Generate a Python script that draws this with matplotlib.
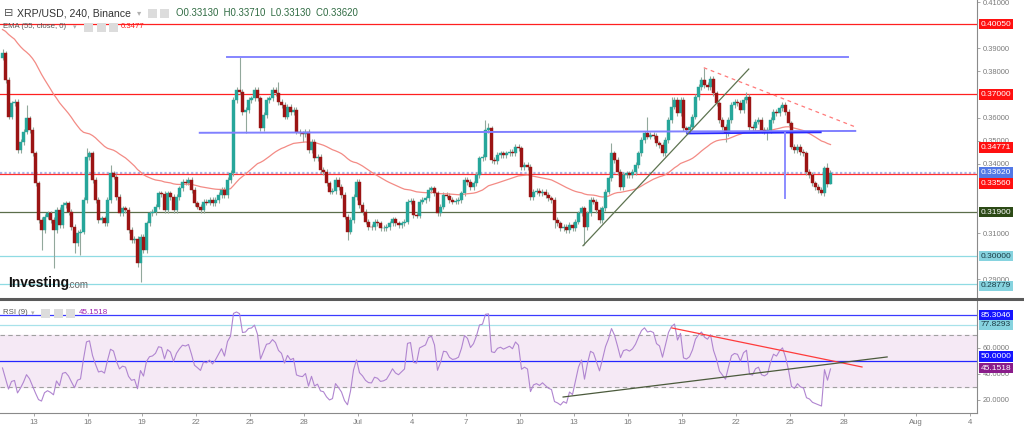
import numpy as np
import pandas as pd
import matplotlib
matplotlib.use("Agg")
import matplotlib.pyplot as plt
import matplotlib.dates as mdates
from matplotlib.patches import Rectangle
from matplotlib.transforms import blended_transform_factory

plt.rcParams['font.family'] = ['Liberation Sans', 'DejaVu Sans']

# XRP/USD 4h closes (Binance), first candle 11 Jun 2022 04:00
closes = [
    0.3878, 0.3762, 0.3604, 0.3661, 0.3668, 0.3459, 0.3495, 0.3539, 0.3596, 0.3546,
    0.3445, 0.3315, 0.3156, 0.3113, 0.3171, 0.3185, 0.3156, 0.3113, 0.3199, 0.3135,
    0.3221, 0.3228, 0.3192, 0.3127, 0.3055, 0.3099, 0.3106, 0.3243, 0.3430, 0.3445,
    0.3329, 0.3243, 0.3156, 0.3163, 0.3142, 0.3243, 0.3358, 0.3344, 0.3257, 0.3185,
    0.3207, 0.3199, 0.3113, 0.3070, 0.3075, 0.2969, 0.3084, 0.3026, 0.3142, 0.3185,
    0.3192, 0.3214, 0.3272, 0.3268, 0.3199, 0.3272, 0.3257, 0.3199, 0.3257, 0.3293,
    0.3322, 0.3318, 0.3329, 0.3286, 0.3228, 0.3214, 0.3199, 0.3236, 0.3232, 0.3243,
    0.3228, 0.3243, 0.3264, 0.3286, 0.3264, 0.3329, 0.3361, 0.3676, 0.3719, 0.3712,
    0.3625, 0.3632, 0.3676, 0.3683, 0.3719, 0.3683, 0.3553, 0.3611, 0.3676, 0.3683,
    0.3719, 0.3705, 0.3668, 0.3654, 0.3604, 0.3647, 0.3625, 0.3632, 0.3539, 0.3531,
    0.3528, 0.3539, 0.3459, 0.3495, 0.3423, 0.3430, 0.3373, 0.3365, 0.3315, 0.3279,
    0.3283, 0.3329, 0.3300, 0.3264, 0.3171, 0.3106, 0.3156, 0.3257, 0.3322, 0.3221,
    0.3192, 0.3149, 0.3127, 0.3124, 0.3149, 0.3142, 0.3120, 0.3122, 0.3127, 0.3142,
    0.3159, 0.3142, 0.3135, 0.3142, 0.3149, 0.3236, 0.3240, 0.3178, 0.3175, 0.3236,
    0.3243, 0.3250, 0.3286, 0.3293, 0.3272, 0.3185, 0.3214, 0.3264, 0.3262, 0.3243,
    0.3236, 0.3238, 0.3243, 0.3272, 0.3329, 0.3322, 0.3300, 0.3315, 0.3351, 0.3423,
    0.3430, 0.3546, 0.3553, 0.3416, 0.3412, 0.3438, 0.3445, 0.3438, 0.3445, 0.3452,
    0.3445, 0.3474, 0.3466, 0.3387, 0.3394, 0.3387, 0.3257, 0.3279, 0.3283, 0.3272,
    0.3279, 0.3264, 0.3250, 0.3243, 0.3156, 0.3142, 0.3120, 0.3127, 0.3113, 0.3135,
    0.3120, 0.3149, 0.3185, 0.3207, 0.3127, 0.3185, 0.3243, 0.3236, 0.3199, 0.3156,
    0.3207, 0.3279, 0.3337, 0.3445, 0.3416, 0.3365, 0.3300, 0.3351, 0.3358, 0.3351,
    0.3365, 0.3394, 0.3445, 0.3503, 0.3531, 0.3517, 0.3524, 0.3520, 0.3488, 0.3481,
    0.3445, 0.3503, 0.3589, 0.3647, 0.3676, 0.3618, 0.3676, 0.3553, 0.3546, 0.3560,
    0.3604, 0.3690, 0.3733, 0.3762, 0.3741, 0.3733, 0.3769, 0.3705, 0.3661, 0.3589,
    0.3560, 0.3531, 0.3589, 0.3654, 0.3668, 0.3664, 0.3632, 0.3676, 0.3690, 0.3560,
    0.3553, 0.3582, 0.3589, 0.3546, 0.3539, 0.3546, 0.3589, 0.3625, 0.3618, 0.3640,
    0.3654, 0.3625, 0.3575, 0.3474, 0.3459, 0.3474, 0.3452, 0.3445, 0.3365, 0.3351,
    0.3315, 0.3300, 0.3286, 0.3272, 0.3380, 0.3313, 0.3362,
]
first_open = 0.3860
# long wicks (candle index -> price)
wick_hi = {0: 0.3895, 8: 0.3654, 28: 0.3466, 36: 0.3394, 79: 0.3863, 92: 0.3755,
           161: 0.3589, 162: 0.3575, 203: 0.3488, 215: 0.3604, 223: 0.3690,
           234: 0.3816, 248: 0.3712, 260: 0.3668, 275: 0.3402, 276: 0.3371}
wick_lo = {13: 0.3026, 17: 0.2947, 24: 0.3012, 26: 0.3005, 45: 0.2954, 46: 0.2889,
           81: 0.3534, 86: 0.3540, 100: 0.3495, 115: 0.3070, 184: 0.3120,
           194: 0.3048, 241: 0.3495, 255: 0.3503, 273: 0.3264, 276: 0.3313}
wick_pad = 0.0012

ema_seed = 0.3985          # EMA(55) value at the first visible candle
rsi_seed = (0.0030, 0.0040)  # avg gain / avg loss before the first candle

# horizontal levels on the price panel
red_levels = [0.4005, 0.3700, 0.3356]
green_level = 0.3190
cyan_levels = [0.3000, 0.28779]
last_price = 0.3362

# drawn tools (start, end, price start, price end)
blue_top = ("2022-06-23 17:00", "2022-07-28 05:00", 0.3862, 0.3862)
blue_mid = ("2022-06-22 05:00", "2022-07-28 15:00", 0.3534, 0.3542)
blue_dark = ("2022-07-19 07:00", "2022-07-26 17:00", 0.3531, 0.3536)
blue_vert = ("2022-07-24 17:00", 0.3531, 0.3250)
trend_up = ("2022-07-13 12:00", "2022-07-22 17:00", 0.3045, 0.3810)
trend_down = ("2022-07-20 05:00", "2022-07-28 17:00", 0.3816, 0.3557)

rsi_levels = [(85.3046, '#3b3bff'), (77.8293, '#a8e2ea'), (50.0, '#2424ff')]
rsi_red = ("2022-07-18 10:30", "2022-07-29 00:00", 75.4, 45.4)
rsi_black = ("2022-07-12 09:30", "2022-07-30 09:30", 22.3, 53.1)

price_ticks = [0.29, 0.31, 0.34, 0.35, 0.36, 0.38, 0.39, 0.41]
rsi_ticks = [20, 40, 60]

tick_dates = ["2022-06-13", "2022-06-16", "2022-06-19", "2022-06-22", "2022-06-25",
              "2022-06-28", "2022-07-01", "2022-07-04", "2022-07-07", "2022-07-10",
              "2022-07-13", "2022-07-16", "2022-07-19", "2022-07-22", "2022-07-25",
              "2022-07-28", "2022-08-01", "2022-08-04"]
tick_labels = ["13", "16", "19", "22", "25", "28", "Jul", "4", "7", "10", "13", "16",
               "19", "22", "25", "28", "Aug", "4"]

# ---- derived series
n = len(closes)
times = pd.date_range("2022-06-11 04:00", periods=n, freq="4h") + pd.Timedelta(hours=2)
x = mdates.date2num(times.to_pydatetime())
c = np.array(closes)
o = np.concatenate([[first_open], c[:-1]])
hi = np.maximum(o, c) + wick_pad
lo = np.minimum(o, c) - wick_pad
for k, v in wick_hi.items():
    hi[k] = v
for k, v in wick_lo.items():
    lo[k] = v

alpha = 2 / 56
ema = []
e = ema_seed
for v in closes:
    e = e + alpha * (v - e)
    ema.append(e)

ag, al = rsi_seed
rsi = []
prev = first_open
for v in closes:
    ch = v - prev
    ag = (ag * 8 + max(ch, 0)) / 9
    al = (al * 8 + max(-ch, 0)) / 9
    rsi.append(100 - 100 / (1 + ag / al))
    prev = v


def dn(s):
    return mdates.date2num(pd.Timestamp(s).to_pydatetime())


# ---- figure
fig = plt.figure(figsize=(10.24, 4.28), dpi=100)
ax = fig.add_axes([0, 1 - 297 / 428, 977 / 1024, 297 / 428])
ax2 = fig.add_axes([0, 1 - 413 / 428, 977 / 1024, 113 / 428], sharex=ax)

x0 = dn("2022-06-13") - 34 / 18
x1 = dn("2022-08-04") + 7 / 18
ax.set_xlim(x0, x1)
ax.set_ylim(0.2823, 0.4109)
ax2.set_ylim(10, 96.9)

# levels
for lv in red_levels[:2]:
    ax.axhline(lv, color='#ff2020', lw=0.9, zorder=1)
ax.axhline(last_price, color='#a9b4e6', lw=1.6, ls=(0, (1, 1)), zorder=1)
ax.axhline(red_levels[2], color='#ff3030', lw=0.9, zorder=1)
ax.axhline(green_level, color='#5b6e4a', lw=0.9, zorder=1)
for lv in cyan_levels:
    ax.axhline(lv, color='#8fdbe3', lw=0.9, zorder=1)

# candles
up = c >= o
body_lo = np.minimum(o, c)
body_h = np.maximum(np.abs(c - o), 0.0002)
ax.vlines(x, lo, hi, color='#92a89c', lw=0.8, zorder=2)
ax.bar(x[up], body_h[up], bottom=body_lo[up], width=0.12, color='#26a69a',
       edgecolor='#26a69a', lw=0.3, zorder=3)
ax.bar(x[~up], body_h[~up], bottom=body_lo[~up], width=0.12, color='#9b1414',
       edgecolor='#9b1414', lw=0.3, zorder=3)

ax.plot(x, ema, color='#f38b85', lw=0.9, zorder=2.5)

# drawing tools
ax.plot([dn(blue_top[0]), dn(blue_top[1])], blue_top[2:], color='#8585ff', lw=1.4, zorder=4)
ax.plot([dn(blue_mid[0]), dn(blue_mid[1])], blue_mid[2:], color='#8080ff', lw=1.4, zorder=4)
ax.plot([dn(blue_dark[0]), dn(blue_dark[1])], blue_dark[2:], color='#2a2aff', lw=1.3, zorder=4)
ax.plot([dn(blue_vert[0])] * 2, blue_vert[1:], color='#8c8cff', lw=1.4, zorder=4)
ax.plot([dn(trend_up[0]), dn(trend_up[1])], trend_up[2:], color='#5d7350', lw=0.9, zorder=4)
ax.plot([dn(trend_down[0]), dn(trend_down[1])], trend_down[2:], color='#ff7a7a', lw=0.9,
        ls=(0, (3, 3)), zorder=4)

# RSI panel
ax2.axhspan(30, 70, color='#f5e9f5', zorder=0)
ax2.axhline(70, color='#a0a0a0', lw=0.8, ls=(0, (4, 3)), zorder=1)
ax2.axhline(30, color='#a0a0a0', lw=0.8, ls=(0, (4, 3)), zorder=1)
for lv, col in rsi_levels:
    ax2.axhline(lv, color=col, lw=0.9, zorder=1)
ax2.plot(x, rsi, color='#b085d0', lw=0.8, zorder=3)
ax2.plot([dn(rsi_red[0]), dn(rsi_red[1])], rsi_red[2:], color='#ff3b3b', lw=0.9, zorder=4)
ax2.plot([dn(rsi_black[0]), dn(rsi_black[1])], rsi_black[2:], color='#4b5a3c', lw=0.9, zorder=4)

# axes styling
for a in (ax, ax2):
    for s in ('left', 'top'):
        a.spines[s].set_visible(False)
    a.spines['right'].set_color('#8a8a8a')
    a.spines['right'].set_linewidth(0.8)
    a.yaxis.tick_right()
    a.tick_params(axis='y', direction='out', length=2.5, width=0.6, color='#999999',
                  labelsize=5.4, labelcolor='#7a7a7a', pad=1.5)
ax.spines['bottom'].set_visible(False)
ax.tick_params(axis='x', bottom=False, labelbottom=False)
ax2.spines['bottom'].set_color('#8a8a8a')
ax2.spines['bottom'].set_linewidth(0.8)

ax.set_yticks(price_ticks)
ax.set_yticklabels(["%.5f" % v for v in price_ticks])
ax2.set_yticks(rsi_ticks)
ax2.set_yticklabels(["%.4f" % v for v in rsi_ticks])
ax2.set_xticks([dn(d) for d in tick_dates])
ax2.set_xticklabels(tick_labels)
ax2.tick_params(axis='x', direction='out', length=2, width=0.6, color='#999999',
                labelsize=5.6, labelcolor='#7a7a7a', pad=2)


def tag(a, y, text, fc, tc='white'):
    tr = blended_transform_factory(a.transAxes, a.transData)
    a.text(1.004, y, text, transform=tr, fontsize=6.0, color=tc, va='center', ha='left',
           bbox=dict(boxstyle='square,pad=0.2', fc=fc, ec='none'), zorder=20, clip_on=False)


# tags are nudged a little off their level where they would sit on a tick label,
# as the platform stacks them
tag(ax, 0.4005, "0.40050", '#ff1010')
tag(ax, 0.3700, "0.37000", '#ff1010')
tag(ax, 0.3470, "0.34771", '#ff1010')
tag(ax, 0.3362, "0.33620", '#5278e6')
tag(ax, 0.3314, "0.33560", '#ff1010')
tag(ax, 0.3190, "0.31900", '#2c4a16')
tag(ax, 0.3000, "0.30000", '#86d3df', '#1a3a44')
tag(ax, 0.2871, "0.28779", '#86d3df', '#1a3a44')
tag(ax2, 85.3046, "85.3046", '#1515ff')
tag(ax2, 77.8293, "77.8293", '#86d3df', '#1a3a44')
tag(ax2, 53.4, "50.0000", '#1515ff')
tag(ax2, 44.6, "45.1518", '#8a1c8a')

# panel separator
fig.add_artist(plt.Line2D([0, 1], [1 - 299 / 428] * 2, transform=fig.transFigure,
                          color='#5a5a5a', lw=2.2))


def px(xp, yp):
    return xp / 1024, 1 - yp / 428


def icon(xp, yp):
    fig.add_artist(Rectangle(px(xp, yp + 5), 9 / 1024, 9 / 428, transform=fig.transFigure,
                             fc='#dcdcdc', ec='none'))


# header texts
fig.text(*px(4, 13), "⊟", fontsize=8, color='#555555', va='center', family='DejaVu Sans')
fig.text(*px(17, 13), "XRP/USD, 240, Binance", fontsize=7.6, color='#333333', va='center')
fig.text(*px(137, 13), "▾", fontsize=6, color='#b0b0b0', va='center', family='DejaVu Sans')
icon(148, 13)
icon(160, 13)
fig.text(*px(176, 13), "O0.33130  H0.33710  L0.33130  C0.33620", fontsize=6.9,
         color='#2f6b42', va='center')
fig.text(*px(3, 27), "EMA (55, close, 0)", fontsize=5.6, color='#555555', va='center')
fig.text(*px(73, 27), "▾", fontsize=5, color='#b0b0b0', va='center', family='DejaVu Sans')
icon(84, 27)
icon(97, 27)
icon(109, 27)
fig.text(*px(121, 27), "0.3477", fontsize=5.6, color='#ff1a1a', va='center')

fig.text(*px(3, 313), "RSI (9)", fontsize=5.6, color='#555555', va='center')
fig.text(*px(31, 313), "▾", fontsize=5, color='#b0b0b0', va='center', family='DejaVu Sans')
icon(41, 313)
icon(54, 313)
icon(66, 313)
fig.text(*px(79, 313), "45.1518", fontsize=5.8, color='#a020b0', va='center')

# watermark
fig.text(*px(8, 283), "Investing", fontsize=10, weight='bold', color='#111111', va='center')
fig.text(*px(67, 285), ".com", fontsize=7, color='#666666', va='center')

fig.savefig("out.png", dpi=100, facecolor='white')
